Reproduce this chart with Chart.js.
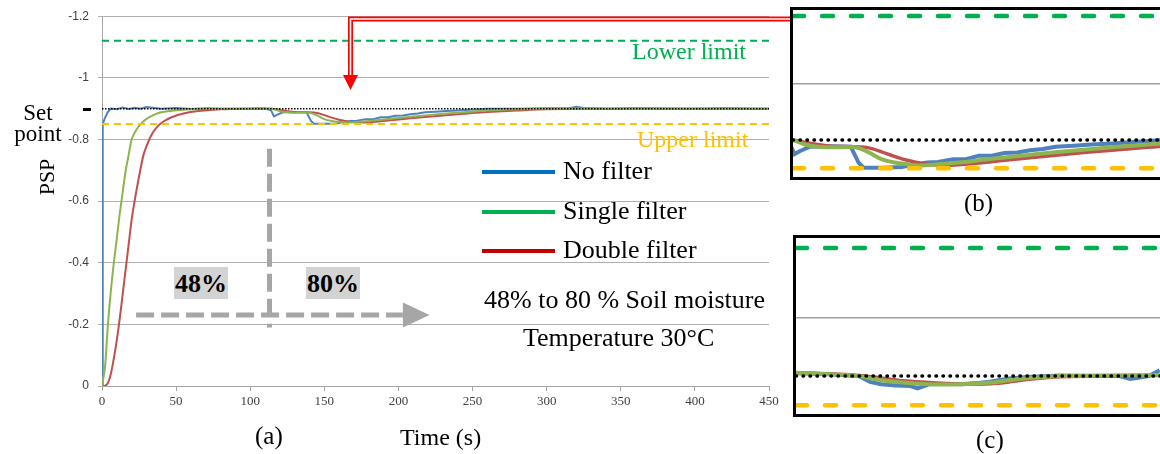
<!DOCTYPE html>
<html>
<head>
<meta charset="utf-8">
<script src="https://cdn.jsdelivr.net/npm/chart.js@4.4.1/dist/chart.umd.min.js"></script>
<style>
body { margin: 0; width: 1160px; height: 454px; overflow: hidden; background: #fff; position: relative; font-family: 'Liberation Serif', 'Times New Roman', serif; color: #000; }
.abs { position: absolute; white-space: nowrap; }
.leg { font-size: 26px; line-height: 26px; }
.legline { position: absolute; height: 4px; width: 73px; left: 482px; }
.pct { position: absolute; top: 267px; width: 54px; height: 32px; background: #d3d3d3; font-weight: bold; font-size: 26px; line-height: 33px; text-align: center; }
.inset { position: absolute; border: 3px solid #000; box-sizing: border-box; background: #fff; }
</style>
</head>
<body>
<canvas id="mainChart" width="1160" height="454" style="position:absolute;left:0;top:0"></canvas>

<svg class="abs" width="1160" height="454" style="left:0;top:0">
  <path d="M350.5,76 L350.5,19 L792,19" fill="none" stroke="#ff0000" stroke-width="5"/>
  <path d="M350.5,76 L350.5,19 L792,19" fill="none" stroke="#fff" stroke-width="1.6"/>
  <polygon points="343,75 358,75 350.5,90" fill="#ff0000"/>
</svg>

<div class="abs" style="left:8px;top:102px;width:60px;font-size:23px;line-height:21px;text-align:center;">Set<br>point</div>
<div class="abs" style="left:83px;top:108px;width:8px;height:3px;background:#000;"></div>
<div class="abs" style="left:47px;top:177px;font-size:22px;transform:translate(-50%,-50%) rotate(-90deg);">PSP</div>

<div class="abs" style="left:632px;top:39px;font-size:24px;line-height:24px;color:#00b050;">Lower limit</div>
<div class="abs" style="left:637px;top:127px;font-size:24px;line-height:24px;color:#ffc000;">Upper limit</div>

<div class="legline" style="top:170px;background:#0070c0;"></div>
<div class="legline" style="top:210px;background:#00b050;"></div>
<div class="legline" style="top:249px;background:#c00000;"></div>
<div class="abs leg" style="left:563px;top:158px;">No filter</div>
<div class="abs leg" style="left:563px;top:198px;">Single filter</div>
<div class="abs leg" style="left:563px;top:237px;">Double filter</div>

<div class="pct" style="left:174px;">48%</div>
<div class="pct" style="left:306px;">80%</div>
<div class="abs leg" style="left:484px;top:287px;">48% to 80 % Soil moisture</div>
<div class="abs leg" style="left:523px;top:325px;">Temperature 30°C</div>

<div class="abs" style="left:255px;top:423px;font-size:25px;line-height:25px;">(a)</div>
<div class="abs" style="left:400px;top:425px;font-size:24px;line-height:24px;">Time (s)</div>

<div class="inset" style="left:790px;top:7px;width:380px;height:173px;"><canvas id="insetB" width="374" height="167"></canvas></div>
<div class="abs" style="left:964px;top:190px;font-size:25px;line-height:25px;">(b)</div>

<div class="inset" style="left:793px;top:235px;width:377px;height:182px;"><canvas id="insetC" width="371" height="176"></canvas></div>
<div class="abs" style="left:976px;top:427px;font-size:25px;line-height:25px;">(c)</div>

<script>
// axis ticks
const xTicks = [0, 50, 100, 150, 200, 250, 300, 350, 400, 450];
const yTicks = [-1.2, -1, -0.8, -0.6, -0.4, -0.2, 0];
const yTickLabels = ['-1.2', '-1', '-0.8', '-0.6', '-0.4', '-0.2', '0'];

// reference levels
const lowerLimit = -1.12;
const upperLimit = -0.85;
const setPoint = -0.9;
const limitSpan = [0, 450];

// no filter (raw sensor)
const blueTime = [0, 0.5, 2, 4, 6, 10, 14, 18, 22, 26, 30, 40, 50, 60, 70, 80, 90, 100, 110, 114, 116, 118, 122, 130, 138, 141, 143, 150, 158, 163, 168, 172, 178, 183, 188, 193, 198, 203, 208, 213, 218, 225, 232, 240, 250, 260, 280, 300, 315, 320, 325, 340, 360, 380, 400, 420, 440, 450];
const noFilter = [0, -0.85, -0.87, -0.89, -0.9, -0.898, -0.904, -0.899, -0.903, -0.9, -0.905, -0.9, -0.902, -0.899, -0.901, -0.9, -0.899, -0.9, -0.9, -0.895, -0.875, -0.88, -0.888, -0.889, -0.888, -0.86, -0.851, -0.851, -0.852, -0.857, -0.86, -0.861, -0.866, -0.866, -0.872, -0.872, -0.877, -0.878, -0.882, -0.884, -0.888, -0.89, -0.892, -0.894, -0.897, -0.9, -0.9, -0.901, -0.901, -0.906, -0.902, -0.9, -0.901, -0.9, -0.9, -0.901, -0.9, -0.9];

// single filter
const greenTime = [0, 2, 4, 6, 8, 10, 12, 14, 16, 18, 20, 23, 26, 30, 35, 40, 50, 60, 80, 100, 115, 120, 125, 130, 140, 145, 150, 155, 160, 165, 170, 180, 190, 200, 220, 240, 260, 280, 300, 350, 400, 450];
const singleFilter = [0, -0.06, -0.2, -0.31, -0.4, -0.48, -0.56, -0.63, -0.7, -0.75, -0.8, -0.83, -0.85, -0.867, -0.88, -0.888, -0.895, -0.898, -0.9, -0.9, -0.9, -0.892, -0.888, -0.887, -0.887, -0.878, -0.866, -0.86, -0.857, -0.855, -0.856, -0.86, -0.865, -0.87, -0.879, -0.887, -0.894, -0.898, -0.9, -0.9, -0.9, -0.9];

// double filter
const redTime = [0, 2, 4, 6, 8, 10, 12, 14, 16, 18, 20, 22, 25, 28, 31, 34, 38, 42, 47, 55, 65, 80, 100, 115, 120, 125, 130, 140, 145, 150, 155, 160, 165, 170, 175, 180, 190, 200, 220, 240, 260, 280, 300, 350, 400, 450];
const doubleFilter = [0, 0, -0.01, -0.04, -0.09, -0.15, -0.22, -0.3, -0.38, -0.46, -0.54, -0.6, -0.68, -0.75, -0.79, -0.82, -0.845, -0.86, -0.872, -0.884, -0.892, -0.898, -0.9, -0.9, -0.896, -0.892, -0.889, -0.888, -0.886, -0.879, -0.871, -0.864, -0.859, -0.856, -0.855, -0.856, -0.86, -0.865, -0.874, -0.882, -0.889, -0.894, -0.898, -0.9, -0.9, -0.9];

// inset (c) traces, relative position 0-100
const cBlueTime = [0, 10, 18, 21, 24, 28, 32, 34, 37, 42, 46, 50, 54, 59, 65, 73, 84, 89, 92, 95, 97, 100];
const cBlue = [-0.905, -0.903, -0.9, -0.89, -0.886, -0.884, -0.883, -0.879, -0.886, -0.887, -0.886, -0.888, -0.891, -0.896, -0.899, -0.901, -0.9, -0.9, -0.895, -0.898, -0.9, -0.91];
const cGreenTime = [0, 10, 18, 24, 30, 37, 46, 54, 59, 65, 73, 84, 100];
const cGreen = [-0.906, -0.903, -0.9, -0.893, -0.889, -0.886, -0.886, -0.889, -0.893, -0.897, -0.9, -0.901, -0.902];
const cRedTime = [0, 10, 18, 24, 30, 37, 42, 46, 54, 59, 65, 73, 84, 100];
const cRed = [-0.906, -0.904, -0.901, -0.897, -0.892, -0.889, -0.887, -0.886, -0.887, -0.89, -0.895, -0.899, -0.9, -0.901];

// grey step annotation (time s / PSP)
const stepTime = 113;
const stepArrow = { y: -0.23, from: 23, to: 203, tip: 221 };
const stepDivider = { top: -0.77, bottom: -0.19 };

const blueCol = '#4f81bd';
const greenCol = '#8db44e';
const redCol = '#c0504d';

function pts(xs, ys) {
    return xs.map((x, i) => ({ x: x, y: ys[i] }));
}

function flat(xs, v) {
    return xs.map(x => ({ x: x, y: v }));
}

const stepPlugin = {
    id: 'stepPlugin',
    afterDatasetsDraw(chart) {
        const ctx = chart.ctx;
        const xs = chart.scales.x, ys = chart.scales.y;
        ctx.save();
        ctx.strokeStyle = '#a6a6a6';
        ctx.fillStyle = '#a6a6a6';
        ctx.lineWidth = 5;
        ctx.setLineDash([18, 7]);
        const y = ys.getPixelForValue(stepArrow.y);
        ctx.beginPath();
        ctx.moveTo(xs.getPixelForValue(stepArrow.from), y);
        ctx.lineTo(xs.getPixelForValue(stepArrow.to), y);
        ctx.stroke();
        const x = xs.getPixelForValue(stepTime);
        ctx.beginPath();
        ctx.moveTo(x, ys.getPixelForValue(stepDivider.top));
        ctx.lineTo(x, ys.getPixelForValue(stepDivider.bottom));
        ctx.stroke();
        ctx.setLineDash([]);
        const bx = xs.getPixelForValue(stepArrow.to);
        ctx.beginPath();
        ctx.moveTo(bx, y - 12.5);
        ctx.lineTo(xs.getPixelForValue(stepArrow.tip), y);
        ctx.lineTo(bx, y + 12.5);
        ctx.closePath();
        ctx.fill();
        ctx.restore();
    }
};

new Chart(document.getElementById('mainChart').getContext('2d'), {
    type: 'line',
    data: {
        datasets: [
            { data: flat(limitSpan, setPoint), borderColor: '#000', borderWidth: 1.5, borderDash: [1.5, 1.5] },
            { data: flat(limitSpan, lowerLimit), borderColor: '#00b050', borderWidth: 2, borderDash: [7, 5] },
            { data: flat(limitSpan, upperLimit), borderColor: '#ffc000', borderWidth: 2, borderDash: [7, 5] },
            { data: pts(greenTime, singleFilter), borderColor: greenCol, borderWidth: 2, tension: 0.3 },
            { data: pts(redTime, doubleFilter), borderColor: redCol, borderWidth: 2, tension: 0.3 },
            { data: pts(blueTime, noFilter), borderColor: blueCol, borderWidth: 2 }
        ]
    },
    options: {
        responsive: false,
        animation: false,
        events: [],
        elements: { point: { radius: 0 }, line: { fill: false } },
        layout: { padding: { left: 0, top: 14, right: 391, bottom: 38 } },
        plugins: { legend: { display: false }, tooltip: { enabled: false } },
        scales: {
            x: {
                type: 'linear',
                min: 0,
                max: 450,
                afterBuildTicks: s => { s.ticks = xTicks.map(v => ({ value: v })); },
                afterFit: s => { s.height = 30; },
                grid: { drawOnChartArea: false, color: '#a6a6a6', tickLength: 5 },
                border: { color: '#a6a6a6' },
                ticks: { color: '#404040', padding: 3, maxRotation: 0, font: { family: "'Liberation Serif', serif", size: 13 } }
            },
            y: {
                type: 'linear',
                min: -1.2,
                max: 0,
                reverse: true,
                afterBuildTicks: s => { s.ticks = yTicks.map(v => ({ value: v })); },
                afterFit: s => { s.width = 102; },
                grid: { color: '#b0b0b0', tickLength: 4 },
                border: { color: '#a6a6a6' },
                ticks: {
                    color: '#404040',
                    padding: 9,
                    font: { family: "'Liberation Sans', Arial, sans-serif", size: 12 },
                    callback: v => yTickLabels[yTicks.indexOf(v)]
                }
            }
        }
    },
    plugins: [stepPlugin]
});

function makeInset(id, xMin, xMax, yMin, yMax, blue, green, red) {
    new Chart(document.getElementById(id).getContext('2d'), {
        type: 'line',
        data: {
            datasets: [
                { data: flat([xMin, xMax], setPoint), borderColor: '#000', borderWidth: 3.5, borderDash: [0.5, 6.5], borderCapStyle: 'round' },
                { data: flat([xMin, xMax], lowerLimit), borderColor: '#00b050', borderWidth: 4.5, borderDash: [11, 18], borderCapStyle: 'round' },
                { data: flat([xMin, xMax], upperLimit), borderColor: '#ffc000', borderWidth: 4.5, borderDash: [11, 18], borderCapStyle: 'round' },
                { data: green, borderColor: greenCol, borderWidth: 4, tension: 0.3 },
                { data: red, borderColor: redCol, borderWidth: 3.5, tension: 0.3 },
                { data: blue, borderColor: blueCol, borderWidth: 4 }
            ]
        },
        options: {
            responsive: false,
            animation: false,
            events: [],
            elements: { point: { radius: 0 }, line: { fill: false } },
            layout: { padding: 0 },
            plugins: { legend: { display: false }, tooltip: { enabled: false } },
            scales: {
                x: { type: 'linear', min: xMin, max: xMax, display: false },
                y: {
                    type: 'linear',
                    min: yMin,
                    max: yMax,
                    reverse: true,
                    afterBuildTicks: s => { s.ticks = [{ value: -1 }]; },
                    afterFit: s => { s.width = 0; },
                    grid: { color: '#a0a0a0', lineWidth: 1.5, drawTicks: false },
                    border: { display: false },
                    ticks: { display: false }
                }
            }
        }
    });
}

makeInset('insetB', 115.4, 261.5, -1.1306, -0.8344,
    pts(blueTime, noFilter), pts(greenTime, singleFilter), pts(redTime, doubleFilter));
makeInset('insetC', 0.8, 102, -1.137, -0.835,
    pts(cBlueTime, cBlue), pts(cGreenTime, cGreen), pts(cRedTime, cRed));
</script>
</body>
</html>
